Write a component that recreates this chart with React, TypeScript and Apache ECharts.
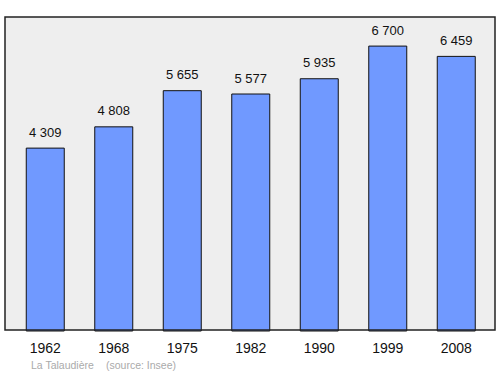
import React, { useEffect, useRef } from "react";
import * as echarts from "echarts";

const years = ["1962", "1968", "1975", "1982", "1990", "1999", "2008"];
const population = [4309, 4808, 5655, 5577, 5935, 6700, 6459];
const placeText = "La Talaudière";
const sourceText = "(source: Insee)";

const fmt = (v: number) => {
  const s = String(v);
  return s.length > 3 ? s.slice(0, s.length - 3) + " " + s.slice(-3) : s;
};

const FONT = "Liberation Sans, Arial, sans-serif";

export default function App() {
  const ref = useRef<HTMLDivElement>(null);
  useEffect(() => {
    if (!ref.current) return;
    const chart = echarts.init(ref.current, null, { renderer: "svg" });
    chart.setOption({
      animation: false,
      backgroundColor: "#ffffff",
      textStyle: { fontFamily: FONT },
      grid: { left: 11, top: 17, width: 479.5, height: 314.5, show: false },
      xAxis: {
        type: "category",
        data: years,
        axisLine: { show: false },
        axisTick: { show: false },
        axisLabel: { color: "#111", fontSize: 14, margin: 9, fontFamily: FONT },
      },
      yAxis: {
        type: "value",
        min: 0,
        max: 7370,
        show: false,
        splitLine: { show: false },
      },
      graphic: [
        {
          type: "rect",
          shape: { x: 5, y: 17, width: 490, height: 313 },
          style: { fill: "#eeeeee", stroke: "none" },
          z: -10,
          silent: true,
        },
        {
          type: "rect",
          shape: { x: 5, y: 17, width: 490, height: 313 },
          style: { fill: "none", stroke: "#222", lineWidth: 1.5 },
          z: 100,
          silent: true,
        },
        {
          type: "text",
          x: 31,
          y: 365,
          style: { text: placeText, fill: "#aaaaaa", fontSize: 10.5, fontFamily: FONT, verticalAlign: "middle" },
        },
        {
          type: "text",
          x: 106,
          y: 365,
          style: { text: sourceText, fill: "#aaaaaa", fontSize: 10.5, fontFamily: FONT, verticalAlign: "middle" },
        },
      ],
      series: [
        {
          type: "bar",
          data: population,
          barWidth: 39,
          itemStyle: { color: "#7099ff", borderColor: "#111", borderWidth: 1 },
          label: {
            show: true,
            position: "top",
            distance: 9,
            color: "#111",
            fontSize: 13,
            fontFamily: FONT,
            formatter: (p: any) => fmt(p.value),
          },
        },
      ],
    });
    return () => chart.dispose();
  }, []);
  return <div ref={ref} style={{ position: "fixed", left: 0, top: 0, width: 500, height: 374 }} />;
}
